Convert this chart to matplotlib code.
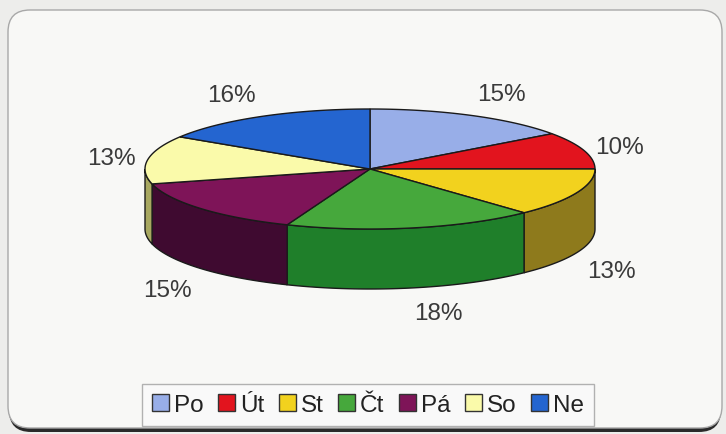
import numpy as np
import matplotlib
matplotlib.use("Agg")
import matplotlib.pyplot as plt
from matplotlib.patches import Polygon, FancyBboxPatch, Patch

# ---- data ----
categories = ["Po", "Út", "St", "Čt", "Pá", "So", "Ne"]
values = [15, 10, 13, 18, 15, 13, 16]
labels = ["15%", "10%", "13%", "18%", "15%", "13%", "16%"]

# ---- style ----
top_colors = ["#98AEE8", "#E2141E", "#F2D21E", "#46A83C", "#7E1458", "#FAFAAA", "#2465D0"]
side_colors = ["#5C6C98", "#8A0C12", "#8E7A1C", "#1F7F2A", "#3F0A30", "#A8A860", "#143C80"]

plt.rcParams['font.family'] = ['Liberation Sans', 'DejaVu Sans']

fig = plt.figure(figsize=(7.26, 4.35), dpi=100)
fig.patch.set_facecolor("#EDEDEB")
ax = fig.add_axes([0, 0, 1, 1])
ax.set_xlim(0, 726)
ax.set_ylim(435, 0)
ax.axis("off")

# panel with dark bottom shadow
shadow = FancyBboxPatch((9, 15), 712, 418, boxstyle="round,pad=0,rounding_size=22",
                        facecolor="#2A2A2A", edgecolor="none", zorder=0)
ax.add_patch(shadow)
panel = FancyBboxPatch((8, 11), 714, 418, boxstyle="round,pad=0,rounding_size=22",
                       facecolor="#F8F8F6", edgecolor="#A8A8A8", linewidth=1.0, zorder=1)
ax.add_patch(panel)

# ---- 3D pie geometry ----
cx, cy = 370, 170
rx, ry = 225, 60
depth = 60

def pt(theta, dy=0.0):
    t = np.radians(theta)
    return cx + rx * np.sin(t), cy - ry * np.cos(t) + dy

total = float(sum(values))
bounds = np.concatenate([[0], np.cumsum(values)]) / total * 360.0

# sides (front half only: 90..270 deg clockwise from top)
for i in range(len(values)):
    a, b = bounds[i], bounds[i + 1]
    lo, hi = max(a, 90), min(b, 270)
    if lo < hi:
        th = np.linspace(lo, hi, 60)
        top = [pt(t) for t in th]
        bot = [pt(t, depth) for t in th[::-1]]
        ax.add_patch(Polygon(top + bot, closed=True, facecolor=side_colors[i],
                             edgecolor="#1A1A1A", linewidth=1.0, zorder=3))

# top faces
for i in range(len(values)):
    a, b = bounds[i], bounds[i + 1]
    th = np.linspace(a, b, 80)
    poly = [(cx, cy)] + [pt(t) for t in th]
    ax.add_patch(Polygon(poly, closed=True, facecolor=top_colors[i],
                         edgecolor="#1A1A1A", linewidth=1.0, zorder=4))

# labels: anchored just outside the pie rim, aligned away from the pie
gap = 12
for i in range(len(values)):
    mid = np.radians((bounds[i] + bounds[i + 1]) / 2)
    s, c = np.sin(mid), np.cos(mid)
    x = cx + (rx + gap) * s
    y = cy - (ry + gap) * c
    if c < 0:
        y += depth + 2
    ha = "left" if s > 0.05 else ("right" if s < -0.05 else "center")
    va = "bottom" if c > 0.5 else ("top" if c < -0.3 else "center")
    ax.text(x, y, labels[i], ha=ha, va=va, fontsize=17.5,
            color="#3A3A3A", zorder=5)

# legend
handles = [Patch(facecolor=top_colors[i], edgecolor="#333333", linewidth=1.0,
                 label=categories[i]) for i in range(len(values))]
leg = ax.legend(handles=handles, loc="center", bbox_to_anchor=(368 / 726, 1 - 406 / 435),
                ncol=7, frameon=True, fancybox=False, fontsize=17.5,
                handlelength=0.7, handleheight=0.7, handletextpad=0.2,
                columnspacing=0.6, borderpad=0.4, borderaxespad=0)
leg.get_frame().set_edgecolor("#A0A0A0")
leg.get_frame().set_facecolor("#FAFAFA")
leg.get_frame().set_linewidth(1.0)
for t in leg.get_texts():
    t.set_color("#222222")

fig.savefig("out.png", dpi=100, facecolor=fig.get_facecolor())
